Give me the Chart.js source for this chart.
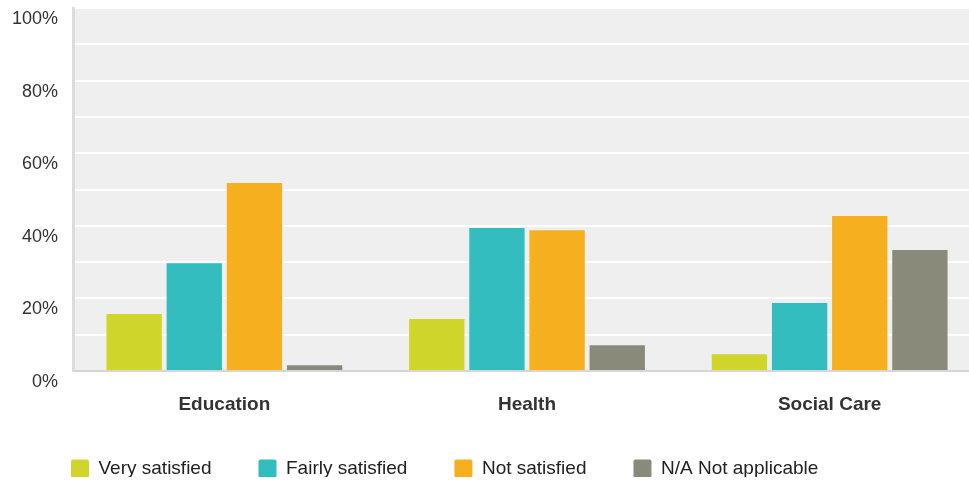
<!DOCTYPE html>
<html>
<head>
<meta charset="utf-8">
<script src="https://cdn.jsdelivr.net/npm/chart.js@4"></script>
<style>
  body { margin: 0; background: #fff; overflow: hidden; }
  #wrap { width: 969px; height: 482px; position: relative; }
</style>
</head>
<body>
<div id="wrap"><canvas id="satisfactionChart"></canvas></div>
<script>
const categories = ["Education", "Health", "Social Care"];
const verySatisfied = [15.7, 14.3, 4.6];
const fairlySatisfied = [29.7, 39.4, 18.7];
const notSatisfied = [51.8, 38.8, 42.7];
const notApplicable = [1.6, 7.1, 33.3];
const yTicks = [0, 20, 40, 60, 80, 100];

const fontFamily = "'Liberation Sans', Arial, sans-serif";

const plotBackground = {
  id: "plotBackground",
  beforeDraw(chart) {
    const { ctx, chartArea } = chart;
    ctx.save();
    ctx.fillStyle = "#efefef";
    ctx.fillRect(chartArea.left, chartArea.top, chartArea.right - chartArea.left, chartArea.bottom - chartArea.top);
    ctx.restore();
  }
};

// nudge the legend under the plot, and let the plot run a bit past the right edge like the original
const layoutTweak = {
  id: "layoutTweak",
  afterLayout(chart) {
    const legend = chart.legend;
    legend.left += 24;
    legend.right += 24;
    legend.top -= 5;
    legend.bottom -= 5;

    const extra = 12;
    chart.chartArea.right += extra;
    chart.chartArea.width += extra;
    const x = chart.scales.x;
    x.right += extra;
    x.width += extra;
    x.configure();
  }
};

const ctx = document.getElementById("satisfactionChart").getContext("2d");
new Chart(ctx, {
  type: "bar",
  data: {
    labels: categories,
    datasets: [
      { label: "Very satisfied", data: verySatisfied, backgroundColor: "#cfd52a" },
      { label: "Fairly satisfied", data: fairlySatisfied, backgroundColor: "#33bdbf" },
      { label: "Not satisfied", data: notSatisfied, backgroundColor: "#f6af1f" },
      { label: "N/A Not applicable", data: notApplicable, backgroundColor: "#8a8a7a" }
    ]
  },
  options: {
    responsive: true,
    maintainAspectRatio: false,
    animation: false,
    datasets: {
      bar: { categoryPercentage: 0.795, barPercentage: 0.92 }
    },
    layout: { padding: { top: 8, right: 0, left: 0, bottom: 0 } },
    scales: {
      x: {
        grid: { display: false, drawTicks: false },
        border: { display: true, color: "#d6d6d6", width: 2 },
        ticks: {
          color: "#333",
          padding: 22,
          font: { family: fontFamily, size: 19, weight: "bold" }
        },
        afterFit(scale) {
          scale.height = 46;
          scale.paddingLeft = 0;
          scale.paddingRight = 0;
        }
      },
      y: {
        min: 0,
        max: 100,
        grid: { color: "#ffffff", lineWidth: 2, drawTicks: false },
        border: { display: true, color: "#dcdcdc", width: 3 },
        ticks: {
          stepSize: 10,
          padding: 15,
          labelOffset: 11,
          color: "#333",
          font: { family: fontFamily, size: 18 },
          callback: v => yTicks.includes(v) ? v + "%" : ""
        },
        afterFit(scale) {
          scale.paddingTop = 0;
          scale.paddingBottom = 0;
          scale.width -= 3;
        }
      }
    },
    plugins: {
      legend: {
        position: "bottom",
        align: "start",
        maxHeight: 65,
        labels: {
          boxWidth: 18,
          boxHeight: 18,
          useBorderRadius: true,
          borderRadius: 2,
          padding: 47,
          color: "#222",
          font: { family: fontFamily, size: 19 }
        }
      },
      tooltip: { enabled: false }
    }
  },
  plugins: [plotBackground, layoutTweak]
});
</script>
</body>
</html>
